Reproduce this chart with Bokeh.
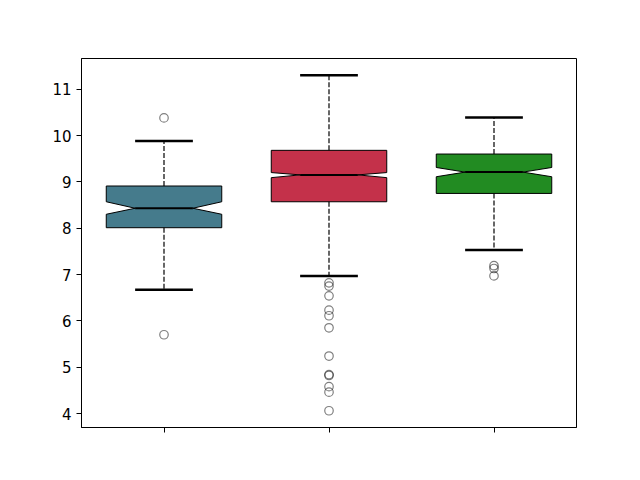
from bokeh.plotting import figure
from bokeh.models import Range1d, FixedTicker
from bokeh.embed import file_html
from bokeh.resources import INLINE

# ---- data ----
positions = [1, 2, 3]
colors = ["#457b8c", "#c4314a", "#228b22"]
q1 = [8.01, 8.57, 8.75]
med = [8.43, 9.15, 9.21]
q3 = [8.91, 9.68, 9.60]
notch_lo = [8.30, 9.09, 9.11]
notch_hi = [8.57, 9.20, 9.31]
whisk_lo = [6.67, 6.97, 7.53]
whisk_hi = [9.88, 11.30, 10.39]
outliers_1 = [10.38, 5.70]
outliers_2 = [6.82, 6.75, 6.54, 6.23, 6.11, 5.85, 5.24, 4.84, 4.82, 4.58, 4.46, 4.06]
outliers_3 = [7.19, 7.13, 6.97]
y_ticks = [4, 5, 6, 7, 8, 9, 10, 11]

outliers = [outliers_1, outliers_2, outliers_3]
box_w = 0.7

all_vals = whisk_lo + whisk_hi + outliers_1 + outliers_2 + outliers_3
lo, hi = min(all_vals), max(all_vals)
pad = (hi - lo) * 0.05

FONT = "DejaVu Sans"

p = figure(width=624, height=464, output_backend="svg", toolbar_location=None,
           x_range=Range1d(0.5, 3.5), y_range=Range1d(lo - pad, hi + pad),
           min_border_left=81, min_border_right=48, min_border_top=58, min_border_bottom=37)

p.xgrid.grid_line_color = None
p.ygrid.grid_line_color = None
p.outline_line_color = "black"
p.outline_line_width = 1
p.outline_line_alpha = 1
p.background_fill_color = "white"
p.border_fill_color = "white"

xs_list, ys_list = [], []
for i, pos in enumerate(positions):
    l, r = pos - box_w / 2, pos + box_w / 2
    nl, nr = pos - box_w / 4, pos + box_w / 4
    xs_list.append([l, r, r, nr, r, r, l, l, nl, l, l])
    ys_list.append([q1[i], q1[i], notch_lo[i], med[i], notch_hi[i], q3[i], q3[i],
                    notch_hi[i], med[i], notch_lo[i], q1[i]])

p.patches(xs_list, ys_list, fill_color=colors, line_color="black", line_width=1)

# whiskers
p.segment(x0=positions, y0=q1, x1=positions, y1=whisk_lo, line_color="black",
          line_width=1.2, line_dash="5 2")
p.segment(x0=positions, y0=q3, x1=positions, y1=whisk_hi, line_color="black",
          line_width=1.2, line_dash="5 2")

# caps
cl = [x - box_w / 4 for x in positions]
cr = [x + box_w / 4 for x in positions]
p.segment(x0=cl, y0=whisk_lo, x1=cr, y1=whisk_lo, line_color="black", line_width=2.5)
p.segment(x0=cl, y0=whisk_hi, x1=cr, y1=whisk_hi, line_color="black", line_width=2.5)

# medians
p.segment(x0=cl, y0=med, x1=cr, y1=med, line_color="black", line_width=2)

# fliers
fx, fy = [], []
for pos, vals in zip(positions, outliers):
    fx += [pos] * len(vals)
    fy += vals
p.scatter(fx, fy, marker="circle", size=8.5, fill_color=None, line_color="black",
          line_alpha=0.5, line_width=1.2)

# axes
p.xaxis.ticker = FixedTicker(ticks=positions)
p.xaxis.major_label_overrides = {1: "", 2: "", 3: ""}
p.yaxis.ticker = FixedTicker(ticks=y_ticks)
for ax in (p.xaxis[0], p.yaxis[0]):
    ax.major_tick_in = 0
    ax.major_tick_out = 5
    ax.minor_tick_in = 0
    ax.minor_tick_out = 0
    ax.major_tick_line_color = "black"
    ax.axis_line_color = "black"
    ax.major_label_text_font = FONT
    ax.major_label_text_font_size = "15px"
    ax.major_label_text_color = "black"
    ax.major_label_standoff = 5

open("out.html", "w").write(file_html(p, INLINE))
